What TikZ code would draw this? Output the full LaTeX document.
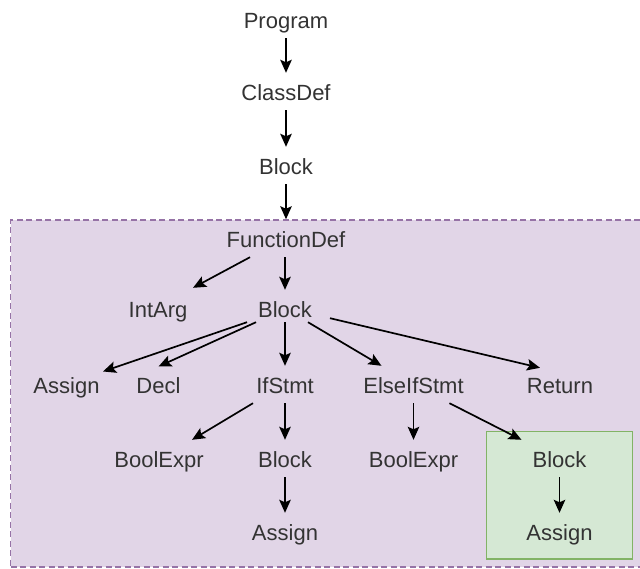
\documentclass[tikz,border=0pt]{standalone}
\usepackage{fontspec}
\setmainfont{Liberation Sans}
\usetikzlibrary{arrows.meta}
\definecolor{txt}{HTML}{333333}
\definecolor{purplefill}{HTML}{E1D5E7}
\definecolor{purpleline}{HTML}{9673A6}
\definecolor{greenfill}{HTML}{D5E8D4}
\definecolor{greenline}{HTML}{82B366}
\tikzset{
  lbl/.style={anchor=base, inner sep=0pt, text height=27pt, text depth=10pt,
    text=txt, font=\fontsize{22}{26}\selectfont},
  conn/.style={line width=1.7pt, -{Stealth[length=13pt,width=11.5pt,inset=2.5pt]}},
  region/.style={draw=purpleline, fill=purplefill, line width=1.5pt,
    dash pattern=on 6pt off 3.5pt, inner sep=0pt},
  subtree/.style={draw=greenline, fill=greenfill, line width=1.5pt, inner sep=0pt}
}
\begin{document}
\begin{tikzpicture}[x=1pt,y=-1pt]
\useasboundingbox (0,0) rectangle (640,568);

% function scope and the else-if body
\node[region, minimum width=649.5pt, minimum height=347pt] (frame) at (335.25,393.5) {};
\node[subtree, minimum width=146pt, minimum height=127.3pt] (grp) at (559.7,495.35) {};

% syntax tree nodes
\node[lbl] (prog) at (286,28) {Program};
\node[lbl] (cls)  at (286,100) {ClassDef};
\node[lbl] (blk0) at (286,174) {Block};
\node[lbl] (fd)   at (286,247) {FunctionDef};
\node[lbl] (ia)   at (158,317) {IntArg};
\node[lbl] (blk1) at (285,317) {Block};
\node[lbl] (asg1) at (66.5,393) {Assign};
\node[lbl] (decl) at (158.5,393) {Decl};
\node[lbl] (ifs)  at (285,393) {IfStmt};
\node[lbl] (eifs) at (413.5,393) {ElseIfStmt};
\node[lbl] (ret)  at (560,393) {Return};
\node[lbl] (be1)  at (159,467) {BoolExpr};
\node[lbl] (blk2) at (285,467) {Block};
\node[lbl] (be2)  at (413.5,467) {BoolExpr};
\node[lbl] (blk3) at (559.5,467) {Block};
\node[lbl] (asg2) at (285,540) {Assign};
\node[lbl] (asg3) at (559.5,540) {Assign};

% edges
\draw[conn] (prog.south) -- (cls.north);
\draw[conn] (cls.south) -- (blk0.north);
\draw[conn] (blk0.south) -- (blk0.south |- frame.north);
\draw[conn] (fd.south -| blk1) -- (blk1.north);
\draw[conn] ([shift={(-36,0)}]fd.south) -- ([shift={(35,-2)}]ia.north);
\draw[conn] ([shift={(-38,-5)}]blk1.south) -- ([shift={(36.5,5.7)}]asg1.north);
\draw[conn] ([shift={(-29,-5)}]blk1.south) -- ([shift={(0,0.7)}]decl.north);
\draw[conn] ([shift={(0,-5)}]blk1.south) -- (ifs.north);
\draw[conn] ([shift={(23,-5)}]blk1.south) -- ([shift={(-32,0)}]eifs.north);
\draw[conn] ([shift={(45,-9)}]blk1.south) -- ([shift={(-20,2)}]ret.north);
\draw[conn] ([shift={(-32,0)}]ifs.south) -- ([shift={(33,0)}]be1.north);
\draw[conn] (ifs.south) -- (blk2.north);
\draw[conn] (blk2.south) -- (asg2.north);
\draw[conn] (eifs.south) -- (be2.north);
\draw[conn] ([shift={(36,0)}]eifs.south) -- ([shift={(-38,0)}]blk3.north);
\draw[conn] (blk3.south) -- (asg3.north);
\end{tikzpicture}
\end{document}
